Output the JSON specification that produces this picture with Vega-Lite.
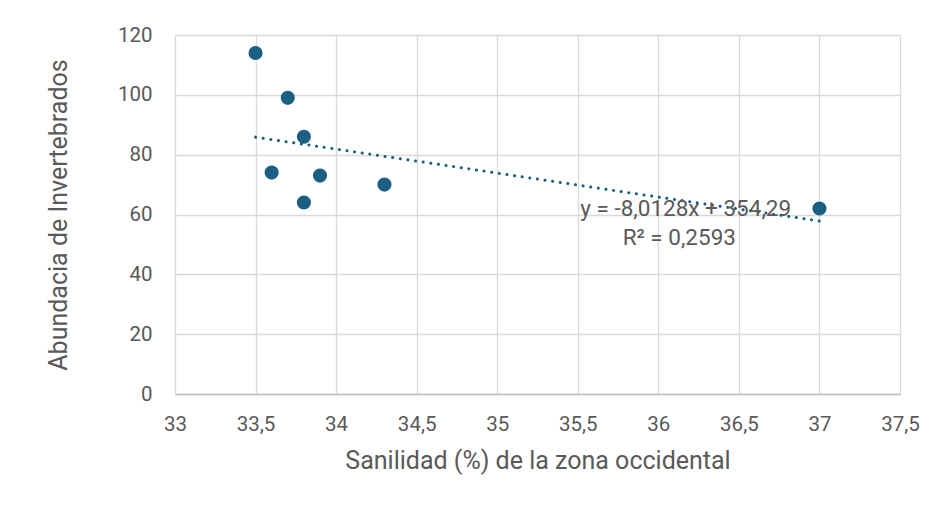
{
  "$schema": "https://vega.github.io/schema/vega-lite/v6.json",
  "width": 725,
  "height": 359,
  "autosize": {"type": "none"},
  "padding": {"left": 175, "top": 35, "right": 39, "bottom": 112},
  "background": "white",
  "config": {
    "view": {"stroke": null},
    "font": "Roboto",
    "axis": {
      "labelFont": "Roboto",
      "titleFont": "Roboto",
      "labelColor": "#595959",
      "titleColor": "#595959",
      "gridColor": "#d9d9d9",
      "gridWidth": 1.3,
      "ticks": false,
      "labelFontSize": 20.5,
      "titleFontSize": 25,
      "titleFontWeight": "normal"
    }
  },
  "datasets": {
    "pts": [
      {"sanilidad": 33.5, "abundancia": 114},
      {"sanilidad": 33.7, "abundancia": 99},
      {"sanilidad": 33.8, "abundancia": 86},
      {"sanilidad": 33.6, "abundancia": 74},
      {"sanilidad": 33.9, "abundancia": 73},
      {"sanilidad": 33.8, "abundancia": 64},
      {"sanilidad": 34.3, "abundancia": 70},
      {"sanilidad": 37.0, "abundancia": 62}
    ],
    "trend": [
      {"sanilidad": 33.5, "abundancia": 85.86},
      {"sanilidad": 37.0, "abundancia": 57.82}
    ],
    "labels": [
      {"sanilidad": 36.17, "abundancia": 62.0, "texto": "y = -8,0128x + 354,29"},
      {"sanilidad": 36.13, "abundancia": 52.0, "texto": "R² = 0,2593"}
    ]
  },
  "layer": [
    {
      "data": {"name": "trend"},
      "mark": {"type": "line", "color": "#1b5f83", "strokeWidth": 3, "strokeDash": [0.1, 7.6], "strokeCap": "round"},
      "encoding": {
        "x": {
          "field": "sanilidad", "type": "quantitative",
          "scale": {"domain": [33, 37.5], "nice": false, "zero": false},
          "axis": {
            "values": [33, 33.5, 34, 34.5, 35, 35.5, 36, 36.5, 37, 37.5],
            "labelExpr": "replace(toString(datum.value), '.', ',')",
            "labelFlush": false,
            "labelOverlap": false,
            "title": "Sanilidad (%) de la zona occidental",
            "domainColor": "#bfbfbf", "domainWidth": 1.5,
            "labelPadding": 20, "titlePadding": 14
          }
        },
        "y": {
          "field": "abundancia", "type": "quantitative",
          "scale": {"domain": [0, 120], "nice": false},
          "axis": {
            "values": [0, 20, 40, 60, 80, 100, 120],
            "title": "Abundacia de Invertebrados",
            "domain": false,
            "labelPadding": 23, "titlePadding": 46
          }
        }
      }
    },
    {
      "data": {"name": "pts"},
      "mark": {"type": "circle", "color": "#1b5f83", "opacity": 1, "size": 200},
      "encoding": {
        "x": {"field": "sanilidad", "type": "quantitative"},
        "y": {"field": "abundancia", "type": "quantitative"}
      }
    },
    {
      "data": {"name": "labels"},
      "mark": {"type": "text", "color": "#595959", "fontSize": 22.5, "font": "Roboto", "align": "center", "baseline": "middle"},
      "encoding": {
        "x": {"field": "sanilidad", "type": "quantitative"},
        "y": {"field": "abundancia", "type": "quantitative"},
        "text": {"field": "texto"}
      }
    }
  ]
}
